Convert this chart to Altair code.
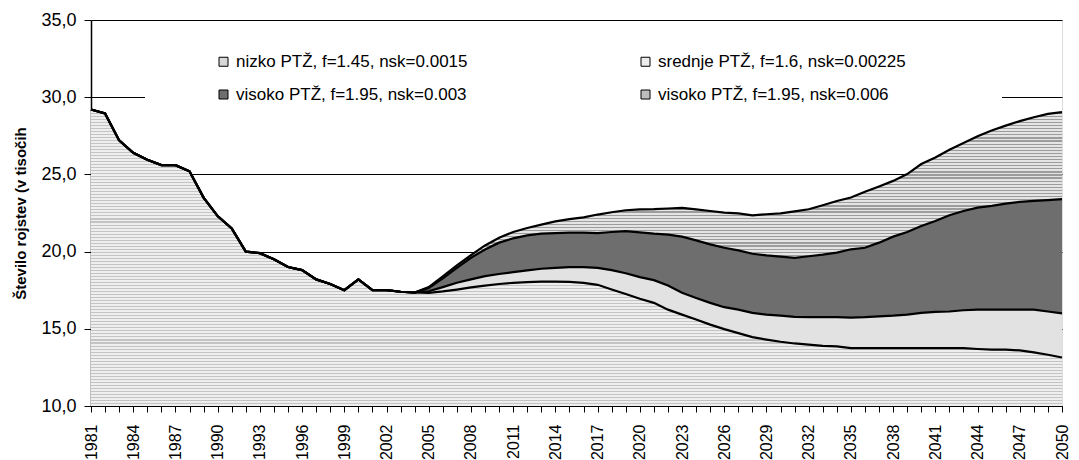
import altair as alt
import pandas as pd

years = list(range(1981, 2051))

# shared history 1981-2003
hist = [29.2, 28.95, 27.2, 26.4, 25.95, 25.6, 25.6, 25.2, 23.5, 22.3, 21.5, 20.0,
        19.9, 19.5, 19.0, 18.8, 18.2, 17.9, 17.5, 18.2, 17.5, 17.5, 17.4]

# projections 2004-2050
nizko = [17.35, 17.33, 17.42, 17.54, 17.68, 17.8, 17.9, 17.98, 18.02, 18.06, 18.06, 18.04,
         17.98, 17.85, 17.55, 17.25, 16.95,
         16.68, 16.24, 15.92, 15.6, 15.27, 14.98, 14.72, 14.46, 14.3, 14.16, 14.05, 13.97,
         13.9, 13.86, 13.75,
         13.75, 13.75, 13.75, 13.75, 13.75, 13.75, 13.75, 13.75, 13.69, 13.65, 13.65, 13.6,
         13.47, 13.32, 13.14]
srednje = [17.35, 17.43, 17.7, 17.98, 18.2, 18.41, 18.55, 18.67, 18.78, 18.89, 18.95, 19.0,
           19.0, 18.95, 18.8, 18.6, 18.35,
           18.15, 17.8, 17.33, 17.0, 16.68, 16.4, 16.24, 16.03, 15.92, 15.85, 15.77, 15.75,
           15.75, 15.75, 15.72,
           15.75, 15.81, 15.85, 15.92, 16.03, 16.09, 16.12, 16.2, 16.24, 16.24, 16.24, 16.24,
           16.24, 16.12, 16.0]
visoko3 = [17.35, 17.65, 18.26, 18.95, 19.6, 20.14, 20.58, 20.86, 21.05, 21.16, 21.2, 21.23,
           21.23, 21.2, 21.27, 21.33, 21.25,
           21.16, 21.1, 20.97, 20.73, 20.47, 20.25, 20.08, 19.86, 19.75, 19.67, 19.6, 19.7,
           19.8, 19.93, 20.15,
           20.25, 20.58, 20.97, 21.27, 21.66, 21.98, 22.35, 22.63, 22.85, 22.96, 23.11, 23.22,
           23.28, 23.33, 23.4]
visoko6 = [17.35, 17.7, 18.4, 19.1, 19.77, 20.4, 20.9, 21.27, 21.53, 21.75, 21.96, 22.1,
           22.22, 22.4, 22.55, 22.68, 22.74,
           22.75, 22.79, 22.83, 22.74, 22.63, 22.53, 22.48, 22.35, 22.42, 22.48, 22.61, 22.74,
           23.0, 23.28, 23.5,
           23.87, 24.22, 24.58, 25.02, 25.67, 26.1, 26.6, 27.03, 27.47, 27.84, 28.16, 28.45,
           28.7, 28.92, 29.03]

labels = ["nizko PTŽ, f=1.45, nsk=0.0015",
          "srednje PTŽ, f=1.6, nsk=0.00225",
          "visoko PTŽ, f=1.95, nsk=0.003",
          "visoko PTŽ, f=1.95, nsk=0.006"]
series_vals = [hist + nizko, hist + srednje, hist + visoko3, hist + visoko6]

rows = []
for lab, vals in zip(labels, series_vals):
    for y, v in zip(years, vals):
        rows.append({"series": lab, "year": y, "value": v})
df = pd.DataFrame(rows)

FONT = "Liberation Sans"


def stripes(dark, light, n, frac):
    stops = []
    for i in range(n):
        a = i / n
        b = (i + frac) / n
        c = min((i + 1) / n, 1.0)
        stops += [alt.GradientStop(offset=a, color=dark), alt.GradientStop(offset=b, color=dark),
                  alt.GradientStop(offset=b, color=light), alt.GradientStop(offset=c, color=light)]
    return alt.Gradient(gradient="linear", stops=stops, x1=0, x2=0, y1=0, y2=1)


fills = [stripes("#c4c4c4", "#eeeeee", 98, 0.35),
         "#e2e2e2",
         "#6e6e6e",
         stripes("#9c9c9c", "#e4e4e4", 96, 0.4)]
legend_colors = ["#d8d8d8", "#ececec", "#6e6e6e", "#bdbdbd"]

x_enc = alt.X("year:Q",
              scale=alt.Scale(domain=[1981, 2050], nice=False, zero=False),
              axis=alt.Axis(values=years, title=None, grid=False, labelAngle=-90,
                            labelExpr="(datum.value - 1981) % 3 == 0 ? toString(datum.value) : ''",
                            labelFont=FONT, labelFontSize=16, labelColor="black",
                            tickColor="black", tickSize=6, domainColor="black",
                            labelPadding=12, labelOverlap=False, labelFlush=False))
y_enc = alt.Y("value:Q",
              scale=alt.Scale(domain=[10, 35], nice=False, zero=False),
              axis=alt.Axis(values=[10, 15, 20, 25, 30, 35],
                            labelExpr="replace(format(datum.value, '.1f'), '.', ',')",
                            title="Število rojstev (v tisočih",
                            titleFont=FONT, titleFontSize=15, titleFontWeight="bold",
                            titleColor="black", titlePadding=12,
                            labelFont=FONT, labelFontSize=18, labelColor="black",
                            labelPadding=8, tickColor="black", tickSize=7,
                            domainColor="black", domainWidth=1.5,
                            grid=True, gridColor="black", gridWidth=1))

# white legend background hiding the 30 gridline
bg = alt.Chart(pd.DataFrame({"k": [0]})).mark_rect(color="white").encode(
    x=alt.value(54), x2=alt.value(911), y=alt.value(20), y2=alt.value(90))

areas = []
for idx in [3, 2, 1, 0]:
    sub = df[df["series"] == labels[idx]]
    areas.append(
        alt.Chart(sub).mark_area(color=fills[idx], opacity=1).encode(
            x=x_enc, y=y_enc, y2=alt.datum(10))
    )

lines = alt.Chart(df).mark_line(color="black", strokeWidth=2.2).encode(
    x=x_enc, y=y_enc, detail="series:N")

# legend order: column-major grid -> nizko / visoko .003 in col 1, srednje / visoko .006 in col 2
legend_order = [labels[0], labels[2], labels[1], labels[3]]
legend_cols = [legend_colors[0], legend_colors[2], legend_colors[1], legend_colors[3]]

legend_layer = alt.Chart(df).mark_square(size=0, opacity=1).encode(
    x=x_enc, y=y_enc,
    color=alt.Color("series:N",
                    scale=alt.Scale(domain=legend_order, range=legend_cols),
                    legend=alt.Legend(orient="none", legendX=124, legendY=33, columns=2,
                                      title=None, labelFont=FONT, labelFontSize=17,
                                      labelColor="black", labelLimit=0,
                                      symbolType="square",
                                      symbolSize=81, symbolStrokeColor="black",
                                      symbolStrokeWidth=1, symbolOpacity=1,
                                      labelOffset=4, rowPadding=15, columnPadding=169,
                                      padding=0)))

chart = alt.layer(bg, *areas, lines, legend_layer).properties(
    width=971, height=386,
    padding={"left": 5, "top": 3, "right": 0, "bottom": 0},
).configure_view(stroke="black", strokeWidth=1).configure(background="white")

chart.save("out.html", embed_options={"renderer": "svg", "actions": False})
